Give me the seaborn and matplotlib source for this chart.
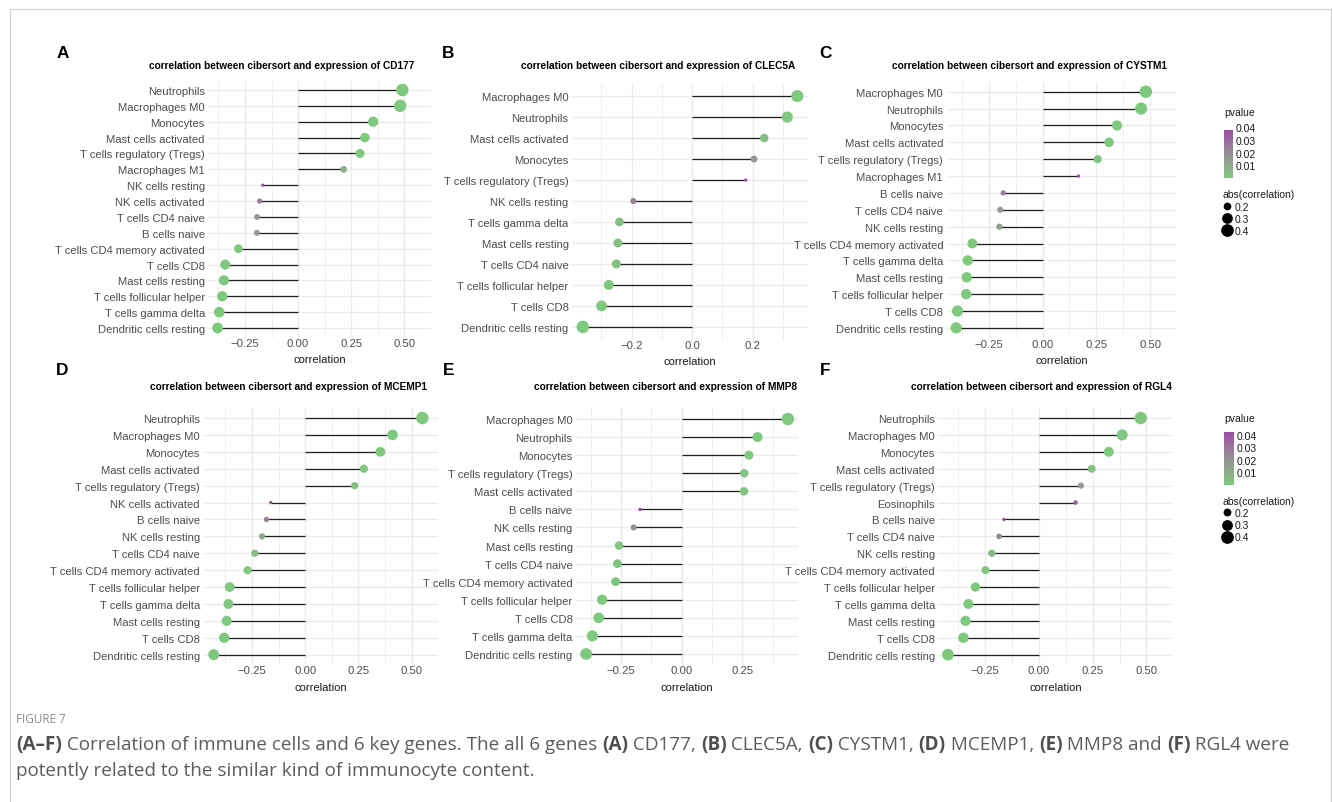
import numpy as np
import pandas as pd
import matplotlib
matplotlib.use("Agg")
import matplotlib.pyplot as plt
import seaborn as sns
from matplotlib.colors import ListedColormap, Normalize, to_rgb
from matplotlib.lines import Line2D
import matplotlib.cm as cm

# ---------------- data ----------------
cells_cd177 = ["Neutrophils", "Macrophages M0", "Monocytes", "Mast cells activated",
               "T cells regulatory (Tregs)", "Macrophages M1", "NK cells resting",
               "NK cells activated", "T cells CD4 naive", "B cells naive",
               "T cells CD4 memory activated", "T cells CD8", "Mast cells resting",
               "T cells follicular helper", "T cells gamma delta", "Dendritic cells resting"]
corr_cd177 = [0.490, 0.480, 0.353, 0.314, 0.291, 0.214, -0.166, -0.181, -0.193, -0.194,
              -0.281, -0.343, -0.349, -0.357, -0.371, -0.379]
p_cd177 = [1e-10, 1e-10, 1e-5, 8e-5, 3e-4, 0.008, 0.040, 0.026, 0.018, 0.017,
           5e-4, 2e-5, 1e-5, 8e-6, 4e-6, 2e-6]

cells_clec5a = ["Macrophages M0", "Neutrophils", "Mast cells activated", "Monocytes",
                "T cells regulatory (Tregs)", "NK cells resting", "T cells gamma delta",
                "Mast cells resting", "T cells CD4 naive", "T cells follicular helper",
                "T cells CD8", "Dendritic cells resting"]
corr_clec5a = [0.347, 0.314, 0.238, 0.204, 0.177, -0.194, -0.240, -0.245, -0.250,
               -0.275, -0.299, -0.361]
p_clec5a = [1e-5, 8e-5, 0.003, 0.012, 0.029, 0.017, 0.003, 0.002, 0.002, 6e-4, 2e-4, 5e-6]

cells_cystm1 = ["Macrophages M0", "Neutrophils", "Monocytes", "Mast cells activated",
                "T cells regulatory (Tregs)", "Macrophages M1", "B cells naive",
                "T cells CD4 naive", "NK cells resting", "T cells CD4 memory activated",
                "T cells gamma delta", "Mast cells resting", "T cells follicular helper",
                "T cells CD8", "Dendritic cells resting"]
corr_cystm1 = [0.480, 0.458, 0.346, 0.309, 0.256, 0.167, -0.183, -0.197, -0.201,
               -0.327, -0.348, -0.353, -0.355, -0.396, -0.402]
p_cystm1 = [1e-9, 1e-8, 1e-5, 1e-4, 0.0015, 0.038, 0.024, 0.014, 0.013,
            4e-5, 1e-5, 1e-5, 9e-6, 5e-7, 3e-7]

cells_mcemp1 = ["Neutrophils", "Macrophages M0", "Monocytes", "Mast cells activated",
                "T cells regulatory (Tregs)", "NK cells activated", "B cells naive",
                "NK cells resting", "T cells CD4 naive", "T cells CD4 memory activated",
                "T cells follicular helper", "T cells gamma delta", "Mast cells resting",
                "T cells CD8", "Dendritic cells resting"]
corr_mcemp1 = [0.550, 0.410, 0.353, 0.275, 0.232, -0.162, -0.182, -0.203, -0.237,
               -0.271, -0.355, -0.361, -0.369, -0.381, -0.430]
p_mcemp1 = [1e-12, 1e-7, 1e-5, 6e-4, 0.004, 0.045, 0.027, 0.013, 0.004,
            8e-4, 1e-5, 8e-6, 5e-6, 3e-6, 1e-7]

cells_mmp8 = ["Macrophages M0", "Neutrophils", "Monocytes", "T cells regulatory (Tregs)",
              "Mast cells activated", "B cells naive", "NK cells resting",
              "Mast cells resting", "T cells CD4 naive", "T cells CD4 memory activated",
              "T cells follicular helper", "T cells CD8", "T cells gamma delta",
              "Dendritic cells resting"]
corr_mmp8 = [0.438, 0.313, 0.277, 0.258, 0.257, -0.172, -0.198, -0.258, -0.265,
             -0.272, -0.328, -0.342, -0.368, -0.394]
p_mmp8 = [1e-8, 1e-4, 6e-4, 0.0013, 0.0014, 0.034, 0.016, 0.0013, 0.001,
          8e-4, 4e-5, 2e-5, 3e-6, 5e-7]

cells_rgl4 = ["Neutrophils", "Macrophages M0", "Monocytes", "Mast cells activated",
              "T cells regulatory (Tregs)", "Eosinophils", "B cells naive",
              "T cells CD4 naive", "NK cells resting", "T cells CD4 memory activated",
              "T cells follicular helper", "T cells gamma delta", "Mast cells resting",
              "T cells CD8", "Dendritic cells resting"]
corr_rgl4 = [0.473, 0.387, 0.325, 0.245, 0.195, 0.170, -0.164, -0.186, -0.220,
             -0.249, -0.296, -0.329, -0.342, -0.352, -0.424]
p_rgl4 = [1e-9, 1e-6, 5e-5, 0.0025, 0.017, 0.036, 0.042, 0.022, 0.007,
          0.002, 2e-4, 4e-5, 2e-5, 1e-5, 1e-7]

ticks_quarter = [-0.25, 0.0, 0.25, 0.50]
ticklabels_quarter = ["\u22120.25", "0.00", "0.25", "0.50"]
ticks_fifth = [-0.2, 0.0, 0.2]
ticklabels_fifth = ["\u22120.2", "0.0", "0.2"]
ticks_mmp8 = [-0.25, 0.0, 0.25]
ticklabels_mmp8 = ["\u22120.25", "0.00", "0.25"]

pvalue_legend_ticks = [0.01, 0.02, 0.03, 0.04]
size_legend_values = [0.2, 0.3, 0.4]

caption_head = "FIGURE 7"
caption_line1 = [("(A\u2013F)", True), (" Correlation of immune cells and 6 key genes. The all 6 genes ", False),
                 ("(A)", True), (" CD177, ", False), ("(B)", True), (" CLEC5A, ", False),
                 ("(C)", True), (" CYSTM1, ", False), ("(D)", True), (" MCEMP1, ", False),
                 ("(E)", True), (" MMP8 and ", False), ("(F)", True), (" RGL4 were", False)]
caption_line2 = [("potently related to the similar kind of immunocyte content.", False)]

# ---------------- styling ----------------
W, H = 1333, 803
sns.set_theme(style="white")
plt.rcParams["font.family"] = ["Liberation Sans", "DejaVu Sans"]
plt.rcParams["axes.unicode_minus"] = True

LOW, HIGH = "#7FC97F", "#984EA3"


def _srgb_to_lab(c):
    c = np.asarray(c, float)
    lin = np.where(c <= 0.04045, c / 12.92, ((c + 0.055) / 1.055) ** 2.4)
    M = np.array([[0.4124, 0.3576, 0.1805], [0.2126, 0.7152, 0.0722], [0.0193, 0.1192, 0.9505]])
    xyz = M @ lin / np.array([0.95047, 1.0, 1.08883])
    f = np.where(xyz > 0.008856, np.cbrt(xyz), 7.787 * xyz + 16 / 116)
    return np.array([116 * f[1] - 16, 500 * (f[0] - f[1]), 200 * (f[1] - f[2])])


def _lab_to_srgb(lab):
    L, a, b = lab
    fy = (L + 16) / 116
    fx = fy + a / 500
    fz = fy - b / 200
    f = np.array([fx, fy, fz])
    xyz = np.where(f ** 3 > 0.008856, f ** 3, (f - 16 / 116) / 7.787) * np.array([0.95047, 1.0, 1.08883])
    Minv = np.linalg.inv(np.array([[0.4124, 0.3576, 0.1805], [0.2126, 0.7152, 0.0722], [0.0193, 0.1192, 0.9505]]))
    lin = np.clip(Minv @ xyz, 0, 1)
    c = np.where(lin <= 0.0031308, 12.92 * lin, 1.055 * lin ** (1 / 2.4) - 0.055)
    return np.clip(c, 0, 1)


lab_lo, lab_hi = _srgb_to_lab(to_rgb(LOW)), _srgb_to_lab(to_rgb(HIGH))
cmap = ListedColormap([_lab_to_srgb(lab_lo + t * (lab_hi - lab_lo)) for t in np.linspace(0, 1, 256)])

TICK_COL = "#4D4D4D"
GRID_COL = "#EBEBEB"
FS_TICK = 8.1
FS_TITLE = 7.3


def diam_px(a, amin, amax):
    return 3.3 + 9.2 * np.sqrt(np.clip((a - amin) / (amax - amin), 0, 1))


def rect(l, r, t, b):
    return [l / W, 1 - b / H, (r - l) / W, (b - t) / H]


fig = plt.figure(figsize=(W / 100, H / 100), dpi=100)
fig.patch.set_facecolor("white")

panels = [
    dict(letter="A", gene="CD177", cells=cells_cd177, corr=corr_cd177, p=p_cd177,
         ticks=ticks_quarter, labels=ticklabels_quarter, box=(208.3, 431, 81.5, 338.5),
         title_x=282, title_y=66, letter_x=62.5, letter_y=58.3),
    dict(letter="B", gene="CLEC5A", cells=cells_clec5a, corr=corr_clec5a, p=p_clec5a,
         ticks=ticks_fifth, labels=ticklabels_fifth, box=(572, 808, 84.5, 340.5),
         title_x=658, title_y=66, letter_x=448.3, letter_y=57.5),
    dict(letter="C", gene="CYSTM1", cells=cells_cystm1, corr=corr_cystm1, p=p_cystm1,
         ticks=ticks_quarter, labels=ticklabels_quarter, box=(946.7, 1177, 82.6, 339),
         title_x=1029, title_y=65.7, letter_x=825, letter_y=57.5),
    dict(letter="D", gene="MCEMP1", cells=cells_mcemp1, corr=corr_mcemp1, p=p_mcemp1,
         ticks=ticks_quarter, labels=ticklabels_quarter, box=(203.3, 438.3, 408.9, 665.8),
         title_x=288, title_y=387, letter_x=62.5, letter_y=375.5),
    dict(letter="E", gene="MMP8", cells=cells_mmp8, corr=corr_mmp8, p=p_mmp8,
         ticks=ticks_mmp8, labels=ticklabels_mmp8, box=(576, 798, 409.2, 665.8),
         title_x=665, title_y=386.7, letter_x=449, letter_y=375.5),
    dict(letter="F", gene="RGL4", cells=cells_rgl4, corr=corr_rgl4, p=p_rgl4,
         ticks=ticks_quarter, labels=ticklabels_quarter, box=(938.3, 1173.3, 408.9, 665.8),
         title_x=1041, title_y=387, letter_x=825, letter_y=375.5),
]

norms = {}
for pn in panels:
    ax = fig.add_axes(rect(*pn["box"]))
    corr = np.array(pn["corr"])
    df = pd.DataFrame({"cell": pn["cells"], "pos": np.arange(len(corr)),
                       "correlation": corr, "pvalue": pn["p"], "abs": np.abs(corr)})
    amin, amax = df["abs"].min(), df["abs"].max()
    pmin, pmax = df["pvalue"].min(), df["pvalue"].max()
    norms[pn["letter"]] = (pmin, pmax, amin, amax)
    size_map = {v: (diam_px(v, amin, amax) * 0.72) ** 2 for v in sorted(df["abs"].unique())}

    ax.hlines(df["pos"], 0, df["correlation"], color="#1e1e1e", lw=0.9, zorder=2)
    sns.scatterplot(data=df, x="correlation", y="pos", hue="pvalue", palette=cmap,
                    hue_norm=(pmin, pmax), size="abs", sizes=size_map, legend=False,
                    linewidth=0, ax=ax, zorder=3)

    lo, hi = min(corr.min(), 0), max(corr.max(), 0)
    span = hi - lo
    ax.set_xlim(lo - 0.05 * span, hi + 0.05 * span)
    n = len(corr)
    ax.set_ylim(n - 1 + 0.6, -0.6)
    ax.set_yticks(df["pos"], df["cell"])
    ax.set_xticks(pn["ticks"], pn["labels"])
    step = pn["ticks"][1] - pn["ticks"][0]
    minors = np.arange(pn["ticks"][0] - step / 2, pn["ticks"][-1] + step, step)
    ax.set_xticks(minors, minor=True)
    ax.grid(which="major", axis="both", color=GRID_COL, lw=1.0, zorder=0)
    ax.grid(which="minor", axis="x", color=GRID_COL, lw=0.6, zorder=0)
    ax.set_axisbelow(True)
    for s in ax.spines.values():
        s.set_visible(False)
    ax.tick_params(which="both", length=0)
    ax.tick_params(axis="y", labelsize=FS_TICK, labelcolor=TICK_COL, pad=2.5)
    ax.tick_params(axis="x", labelsize=FS_TICK, labelcolor=TICK_COL, pad=0.5)
    ax.set_xlabel("correlation", fontsize=FS_TICK, color="#1a1a1a", labelpad=4.5)
    ax.set_ylabel("")
    ax.set_facecolor("white")

    fig.text(pn["title_x"] / W, 1 - pn["title_y"] / H,
             f"correlation between cibersort and expression of {pn['gene']}",
             ha="center", va="center", fontsize=FS_TITLE, fontweight="bold", color="black")
    fig.text(pn["letter_x"] / W, 1 - pn["letter_y"] / H, pn["letter"], ha="center",
             va="baseline", fontsize=12.4, fontweight="bold", color="black")

# ---------------- legends (panels C and F) ----------------
for key, bar_box, ptitle_y, stitle_top in [("C", (1224.3, 1233.3, 128.3, 179), 113, 190.5),
                                           ("F", (1224.3, 1234.3, 433.3, 485.7), 419, 497)]:
    pmin, pmax, amin, amax = norms[key]
    cax = fig.add_axes(rect(*bar_box))
    cb = fig.colorbar(cm.ScalarMappable(norm=Normalize(pmin, pmax), cmap=cmap), cax=cax)
    cb.outline.set_visible(False)
    cb.set_ticks(pvalue_legend_ticks)
    cb.set_ticklabels([f"{t:.2f}" for t in pvalue_legend_ticks])
    cax.tick_params(which="both", direction="in", length=2, width=0.7, color="white",
                    left=True, right=True, labelsize=7.5, labelcolor="#1a1a1a", pad=1.5)
    cax.minorticks_off()
    fig.text(1224 / W, 1 - ptitle_y / H, "pvalue", ha="left", va="center",
             fontsize=7.5, color="#1a1a1a")
    handles = [Line2D([], [], marker="o", linestyle="", color="black",
                      markersize=diam_px(v, amin, amax) * 0.72) for v in size_legend_values]
    leg = fig.legend(handles, [str(v) for v in size_legend_values], title="abs(correlation)",
                     loc="upper left", bbox_to_anchor=(1222.5 / W, 1 - stitle_top / H),
                     frameon=False, fontsize=7.5, title_fontsize=7.5, handlelength=0.9,
                     handletextpad=0.25, labelspacing=0.2, borderpad=0, borderaxespad=0,
                     alignment="left")
    for t in leg.get_texts():
        t.set_color("#1a1a1a")
    leg.get_title().set_color("#1a1a1a")

# ---------------- border and caption ----------------
fig.add_artist(Line2D([9.5 / W, 9.5 / W, 1330.5 / W, 1330.5 / W],
                      [0, 1 - 9.5 / H, 1 - 9.5 / H, 0], color="#d2d2d2", lw=0.9))

CAP_FONT = ["Open Sans", "DejaVu Sans"]
fig.text(16 / W, 1 - 720 / H, caption_head, ha="left", va="center", fontsize=8.5,
         color="#8a8a8a", family=CAP_FONT)

renderer = fig.canvas.get_renderer()


def run_width(s, size, bold):
    probe = fig.text(0, 0, "X" + s + "X", fontsize=size, family=CAP_FONT,
                     fontweight="bold" if bold else "normal")
    w1 = probe.get_window_extent(renderer).width
    probe.set_text("XX")
    w0 = probe.get_window_extent(renderer).width
    probe.remove()
    return w1 - w0


def draw_runs(runs, x0, y, size):
    x = x0
    for s, bold in runs:
        fig.text(x / W, 1 - y / H, s, ha="left", va="center", fontsize=size, family=CAP_FONT,
                 fontweight="bold" if bold else "normal",
                 color="#4f4f4f" if bold else "#5c5c5c")
        x += run_width(s, size, bold)


base = 11.0
total = sum(run_width(s, base, b) for s, b in caption_line1)
cap_size = base * 1274.0 / total
draw_runs(caption_line1, 16, 745, cap_size)
draw_runs(caption_line2, 16, 771, cap_size)

fig.savefig("out.png", dpi=100, facecolor="white")
